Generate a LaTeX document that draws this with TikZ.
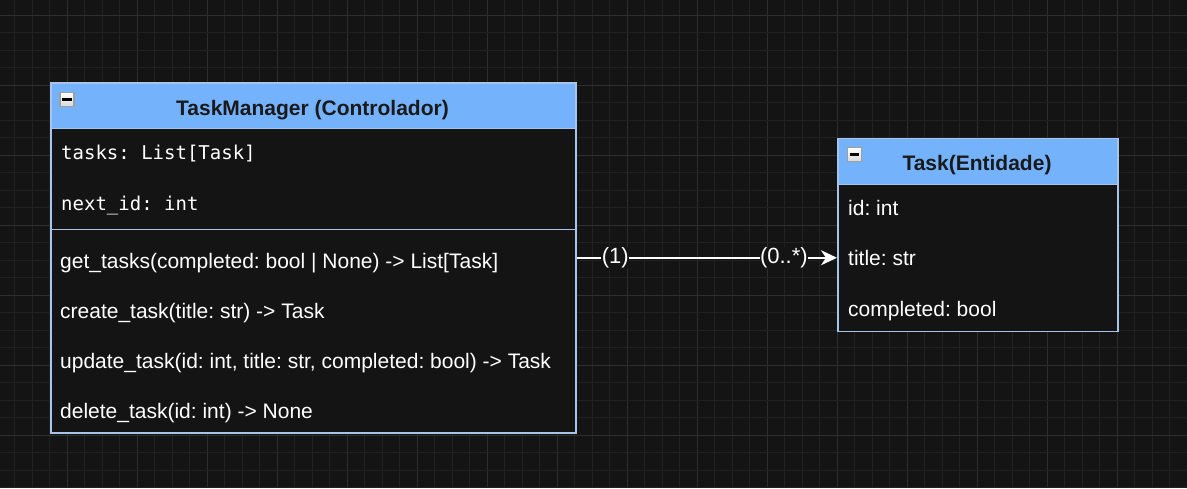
\documentclass[tikz,border=0pt]{standalone}
\usepackage{fontspec}
\setmainfont{Liberation Sans}
\newfontfamily\monof{DejaVu Sans Mono}
\usetikzlibrary{arrows.meta}
\frenchspacing
\definecolor{bg}{HTML}{141414}
\definecolor{gridmin}{HTML}{212121}
\definecolor{gridmaj}{HTML}{2E2E2E}
\definecolor{hdr}{HTML}{74B2FC}
\definecolor{bord}{HTML}{A9C4EB}
\definecolor{ttl}{HTML}{1A1A1A}
\tikzset{
  umlbox/.style={draw=bord, line width=1.5pt, fill=bg, inner sep=0pt, anchor=north west, rectangle},
  hdrbox/.style={draw=bord, line width=1.5pt, fill=hdr, inner sep=0pt, anchor=north west, rectangle},
  ttltext/.style={font=\fontsize{21}{25}\selectfont\bfseries, text=ttl, inner sep=0pt, anchor=base},
  rowtext/.style={font=\fontsize{21}{25}\selectfont, text=white, inner sep=0pt, anchor=base west},
  monotext/.style={font=\fontsize{19}{23}\selectfont\monof, text=white, inner sep=0pt, anchor=base west},
  minusbox/.style={draw=gray!75, line width=1.5pt, top color=white, bottom color=gray!30, minimum size=14pt, inner sep=0pt, anchor=north west},
  conn/.style={draw=white, line width=2pt, -{Stealth[length=16pt,width=15pt,inset=5pt]}},
  lbl/.style={font=\fontsize{22}{26}\selectfont, text=white, fill=bg, inner sep=0.5pt, text height=16pt, text depth=5pt}
}
\begin{document}
\begin{tikzpicture}[x=1pt,y=-1pt]
\fill[bg] (0,0) rectangle (1187,488);
\useasboundingbox (0,0) rectangle (1187,488);
% grid
\foreach \k in {0,...,67} {
  \pgfmathsetmacro{\xx}{14.5+17.5*\k}
  \pgfmathtruncatemacro{\mm}{mod(\k,4)}
  \ifnum\mm=3
    \draw[gridmaj, line width=1pt] (\xx,0) -- (\xx,488);
  \else
    \draw[gridmin, line width=1pt] (\xx,0) -- (\xx,488);
  \fi
}
\foreach \k in {0,...,27} {
  \pgfmathsetmacro{\yy}{15+17.5*\k}
  \pgfmathtruncatemacro{\mm}{mod(\k,4)}
  \ifnum\mm=0
    \draw[gridmaj, line width=1pt] (0,\yy) -- (1187,\yy);
  \else
    \draw[gridmin, line width=1pt] (0,\yy) -- (1187,\yy);
  \fi
}
% TaskManager
\node[umlbox, minimum width=525pt, minimum height=350pt] (tm) at (50,82) {};
\node[hdrbox, minimum width=525pt, minimum height=45.5pt] (tmh) at (50,82) {};
\draw[bord, line width=1.5pt] (50,229.3) -- (575,229.3);
\node[minusbox] (tmm) at (59,91.5) {};
\fill[black] ([xshift=3pt,yshift=-1.3pt]tmm.west) rectangle ([xshift=-3pt,yshift=1.3pt]tmm.east);
\node[ttltext] (tmt) at (312.5,115) {TaskManager (Controlador)};
\node[monotext] (a1) at (61,159.5) {tasks: List[Task]};
\node[monotext] (a2) at (61,210) {next\_id: int};
\node[rowtext] (m1) at (60,268.3) {get\_tasks(completed: bool | None) -> List[Task]};
\node[rowtext] (m2) at (60,318.3) {create\_task(title: str) -> Task};
\node[rowtext] (m3) at (60,368.3) {update\_task(id: int, title: str, completed: bool) -> Task};
\node[rowtext] (m4) at (60,418.3) {delete\_task(id: int) -> None};
% Task
\node[umlbox, minimum width=280pt, minimum height=193pt] (tk) at (837,137.5) {};
\node[hdrbox, minimum width=280pt, minimum height=46pt] (tkh) at (837,137.5) {};
\node[minusbox] (tkm) at (846.5,146.5) {};
\fill[black] ([xshift=3pt,yshift=-1.3pt]tkm.west) rectangle ([xshift=-3pt,yshift=1.3pt]tkm.east);
\node[ttltext] (tkt) at (977,170) {Task(Entidade)};
\node[rowtext] (f1) at (848,215) {id: int};
\node[rowtext] (f2) at (848,265.5) {title: str};
\node[rowtext] (f3) at (848,316) {completed: bool};
% connector
\draw[conn] (tm.east) -- node[lbl, pos=0.149] (l1) {(1)} node[lbl, pos=0.796] (l2) {(0..*)} (tm.east -| tk.west);
\end{tikzpicture}
\end{document}
